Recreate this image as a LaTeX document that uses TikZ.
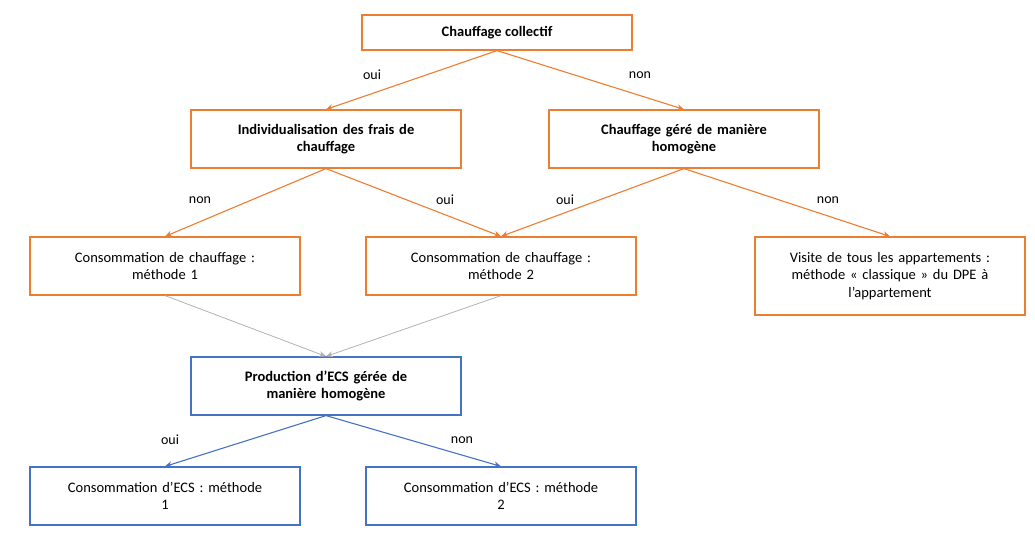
\documentclass[tikz,border=0pt]{standalone}
\usepackage{fontspec}
\setmainfont{Carlito}
\usetikzlibrary{arrows.meta}
\definecolor{org}{RGB}{237,125,49}
\definecolor{blu}{RGB}{68,114,196}
\begin{document}
\begin{tikzpicture}[x=1pt,y=-1pt,font=\fontsize{14.5}{17.5}\selectfont,
  box/.style={draw=#1,line width=1.2pt,minimum width=270pt,align=center,inner sep=3pt},
  arr/.style={draw=#1,line width=1.1pt,-{Stealth[length=7pt,width=6pt]}},
  lab/.style={font=\fontsize{14}{16}\selectfont}]
\useasboundingbox (0,0) rectangle (1035,540);
\node[box=org,minimum height=35pt,font=\fontsize{14.5}{17.5}\selectfont\bfseries] (a) at (497,32.5) {Chauffage collectif};
\node[box=org,minimum height=58pt,text width=260pt,font=\fontsize{14.5}{17.5}\selectfont\bfseries] (b) at (326,139) {Individualisation des frais de\\chauffage};
\node[box=org,minimum height=58pt,text width=260pt,font=\fontsize{14.5}{17.5}\selectfont\bfseries] (c) at (684,139) {Chauffage géré de manière\\homogène};
\node[box=org,minimum height=58pt,text width=260pt] (d) at (165,266) {Consommation de chauffage :\\méthode 1};
\node[box=org,minimum height=58pt,text width=260pt] (e) at (501,266) {Consommation de chauffage :\\méthode 2};
\node[box=org,minimum height=78pt,text width=260pt] (f) at (890,276) {Visite de tous les appartements :\\méthode « classique » du DPE à\\l’appartement};
\node[box=blu,minimum height=58pt,text width=260pt,font=\fontsize{14.5}{17.5}\selectfont\bfseries] (g) at (326,386) {Production d’ECS gérée de\\manière homogène};
\node[box=blu,minimum height=58pt,text width=260pt] (h) at (165,496) {Consommation d’ECS : méthode\\1};
\node[box=blu,minimum height=58pt,text width=260pt] (i) at (501,496) {Consommation d’ECS : méthode\\2};
\draw[arr=org] (a.south) -- (b.north);
\draw[arr=org] (a.south) -- (c.north);
\draw[arr=org] (b.south) -- (d.north);
\draw[arr=org] (b.south) -- (e.north);
\draw[arr=org] (c.south) -- (e.north);
\draw[arr=org] (c.south) -- (f.north);
\draw[arr=gray!60,line width=0.8pt] (d.south) -- (g.north);
\draw[arr=gray!60,line width=0.8pt] (e.south) -- (g.north);
\draw[arr=blu] (g.south) -- (h.north);
\draw[arr=blu] (g.south) -- (i.north);
\node[lab] (l1) at (372,75) {oui};
\node[lab] (l2) at (640,75) {non};
\node[lab] (l3) at (200,200) {non};
\node[lab] (l4) at (445,200) {oui};
\node[lab] (l5) at (565,200) {oui};
\node[lab] (l6) at (828,200) {non};
\node[lab] (l7) at (170,440) {oui};
\node[lab] (l8) at (462,440) {non};
\end{tikzpicture}
\end{document}
